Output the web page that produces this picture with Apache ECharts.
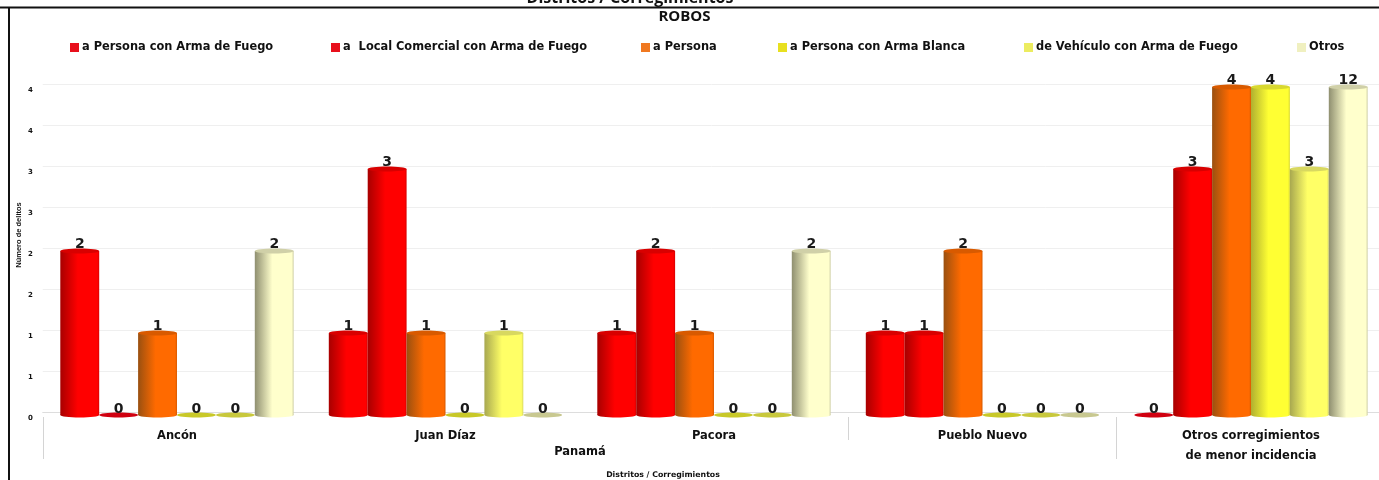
<!DOCTYPE html>
<html><head><meta charset="utf-8">
<style>html,body{margin:0;padding:0;background:#fff}#c{width:1379px;height:480px}</style>
<script src="https://cdn.jsdelivr.net/npm/echarts@6/dist/echarts.min.js"></script>
</head><body><div id="c"></div>
<script>
const categories = ['Ancón','Juan Díaz','Pacora','Pueblo Nuevo','Otros corregimientos\nde menor incidencia'];
const seriesNames = ['a Persona con Arma de Fuego','a  Local Comercial con Arma de Fuego','a Persona','a Persona con Arma Blanca','de Vehículo con Arma de Fuego','Otros'];
const personaFuego = [2,1,1,1,0];
const localFuego = [0,3,2,1,3];
const persona = [1,1,1,2,4];
const personaBlanca = [0,0,0,0,4];
const vehiculoFuego = [0,1,0,0,3];
const otros = [2,0,2,0,12];
const tickLabels = ['0','1','1','2','2','3','3','4','4'];
const allValues = [personaFuego,localFuego,persona,personaBlanca,vehiculoFuego,otros];
const axisMax = 4;
const palette = [
 {hi:'#ff0000',lo:'#a80000',cap:'#d80000',flat:'#d00010',legend:'#e8101c'},
 {hi:'#ff0000',lo:'#a80000',cap:'#d80000',flat:'#d00010',legend:'#e8101c'},
 {hi:'#ff6a00',lo:'#9a5010',cap:'#d85a00',flat:'#c85a00',legend:'#f07820'},
 {hi:'#ffff33',lo:'#b0b030',cap:'#d8d830',flat:'#c8c828',legend:'#e8e020'},
 {hi:'#ffff66',lo:'#a8a850',cap:'#d8d860',flat:'#c8c83c',legend:'#ecec60'},
 {hi:'#ffffcc',lo:'#8f8f70',cap:'#d0d0a8',flat:'#c8c890',legend:'#f0f0c0'}
];
const legendLeft = [65,326,636,773,1019,1292];
const font = 'DejaVu Sans';
const BAR = 38.9/268.5;

function cyl(si){
 return function(params, api){
  const cat = api.value(0), val = api.value(1);
  const band = api.size([1,0])[0];
  const w = band*BAR;
  const cx = api.coord([cat,0])[0] + (si-2.5)*w;
  const base = api.coord([cat,0])[1];
  const top = api.coord([cat,Math.min(val,axisMax)])[1];
  const p = palette[si];
  const labelStyle = {text:String(val),x:cx,y:top-(val===0?6:7),align:'center',verticalAlign:'middle',
    font:'bold 14px "'+font+'"',fill:'#1a1a1a'};
  if(val===0){
   return {type:'group',children:[
    {type:'ellipse',shape:{cx:cx,cy:base,rx:w/2,ry:2.5},style:{fill:p.flat}},
    {type:'text',style:labelStyle}
   ]};
  }
  const grad = new echarts.graphic.LinearGradient(0,0,1,0,[
    {offset:0,color:p.lo},{offset:.45,color:p.hi},{offset:.95,color:p.hi},{offset:1,color:p.cap}]);
  return {type:'group',children:[
    {type:'ellipse',shape:{cx:cx,cy:base,rx:w/2,ry:2.5},style:{fill:grad}},
    {type:'rect',shape:{x:cx-w/2,y:top,width:w,height:base-top},style:{fill:grad}},
    {type:'ellipse',shape:{cx:cx,cy:top,rx:w/2,ry:2.5},style:{fill:p.cap}},
    {type:'text',style:labelStyle}
   ]};
 };
}

const gridL=42.75, gridW=1342.5;
const option = {
 animation:false, backgroundColor:'#fff',
 legend: seriesNames.map((n,i)=>({
   data:[{name:n,icon:'rect',itemStyle:{color:palette[i].legend}}],left:legendLeft[i],top:37,
   itemWidth:9,itemHeight:9,selectedMode:false,
   textStyle:{fontFamily:font,fontWeight:'bold',fontSize:11.4,color:'#111',padding:[0,0,0,-2]}
 })),
 grid:[
  {left:gridL,width:gridW,top:87,height:328,outerBoundsMode:'none'},
  {left:gridL,width:gridW,top:84,height:328,outerBoundsMode:'none'},
  {left:gridL,width:gridW,top:90.5,height:328,outerBoundsMode:'none'}
 ],
 xAxis:[
  {type:'category',gridIndex:0,data:categories,
   axisLine:{show:false},axisTick:{show:false},
   axisLabel:{margin:11,fontFamily:font,fontWeight:'bold',fontSize:11.5,color:'#111',lineHeight:20,interval:0}},
  {type:'category',gridIndex:1,data:categories,
   axisLine:{show:true,lineStyle:{color:'#dddddd'}},axisTick:{show:false},axisLabel:{show:false}},
  {type:'category',gridIndex:2,data:categories,show:false}
 ],
 yAxis:[
  {type:'value',gridIndex:0,min:0,max:axisMax,interval:.5,show:false},
  {type:'value',gridIndex:1,min:0,max:axisMax,interval:.5,
   axisLine:{show:false},axisTick:{show:false},axisLabel:{show:false},
   splitLine:{show:true,lineStyle:{color:'#efefef',width:1}}},
  {type:'value',gridIndex:2,min:0,max:axisMax,interval:.5,
   axisLine:{show:false},axisTick:{show:false},splitLine:{show:false},
   axisLabel:{margin:10,fontFamily:font,fontWeight:'bold',fontSize:7,color:'#111',
     formatter:(v)=>tickLabels[Math.round(v*2)]}}
 ],
 series: seriesNames.map((n,i)=>({
   type:'custom',name:n,xAxisIndex:0,yAxisIndex:0,clip:false,
   itemStyle:{color:palette[i].legend},
   encode:{x:0,y:1},
   renderItem:cyl(i),
   data:allValues[i].map((v,k)=>[k,v])
 })),
 graphic:[
  {type:'text',style:{text:'Distritos / Corregimientos',x:630,y:-2,align:'center',verticalAlign:'middle',font:'bold 16px "Open Sans"',fill:'#111'}},
  {type:'rect',shape:{x:500,y:8,width:260,height:3},style:{fill:'#fff'},z:9},
  {type:'rect',shape:{x:0,y:6.5,width:1379,height:2},style:{fill:'#111'},z:10},
  {type:'rect',shape:{x:8,y:7,width:2,height:473},style:{fill:'#111'},z:10},
  {type:'text',style:{text:'ROBOS',x:684.5,y:17,align:'center',verticalAlign:'middle',font:'bold 15px "Open Sans"',fill:'#111'},z:11},
  {type:'text',style:{text:'Panamá',x:580,y:452,align:'center',verticalAlign:'middle',font:'bold 11.5px "'+font+'"',fill:'#111'}},
  {type:'text',style:{text:'Distritos / Corregimientos',x:663,y:475,align:'center',verticalAlign:'middle',font:'bold 7.8px "'+font+'"',fill:'#111'}},
  {type:'text',rotation:Math.PI/2,x:19,y:235,style:{text:'Número de delitos',x:0,y:0,align:'center',verticalAlign:'middle',font:'bold 7.5px "Liberation Sans"',fill:'#111'}},
  {type:'line',shape:{x1:43.5,y1:417,x2:43.5,y2:459},style:{stroke:'#d4d4d4'}},
  {type:'line',shape:{x1:848.5,y1:417,x2:848.5,y2:440},style:{stroke:'#d4d4d4'}},
  {type:'line',shape:{x1:1116.5,y1:417,x2:1116.5,y2:459},style:{stroke:'#d4d4d4'}}
 ]
};
echarts.init(document.getElementById('c')).setOption(option);
</script></body></html>
